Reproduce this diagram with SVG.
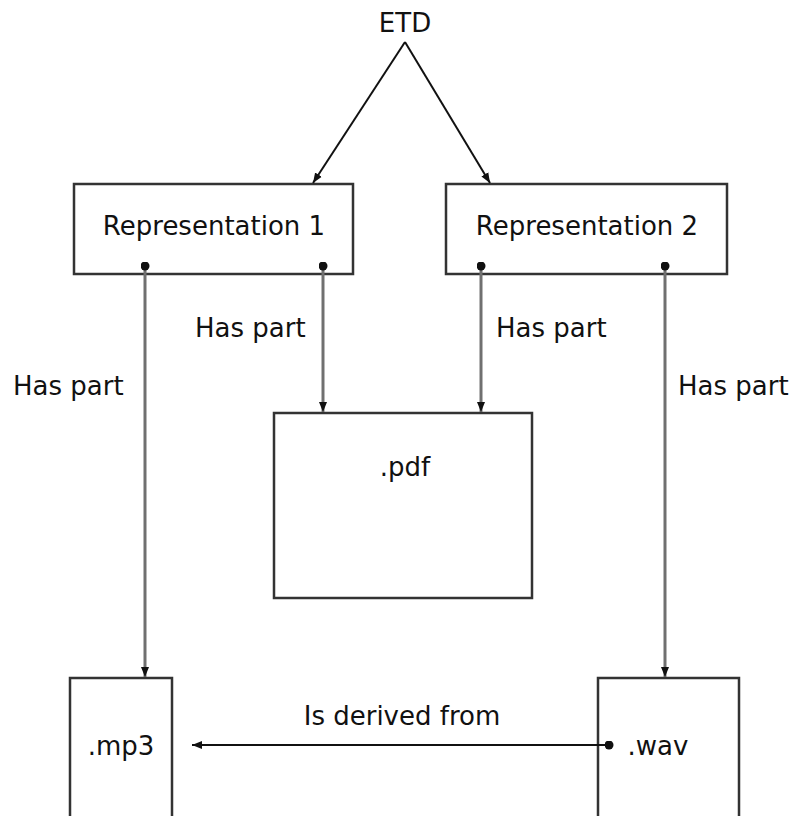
<svg xmlns="http://www.w3.org/2000/svg" width="797" height="816" viewBox="0 0 797 816">
<defs>
<style>
.box{fill:#fff;stroke:#333;stroke-width:2.5}
.t{font-family:"DejaVu Sans",Verdana,sans-serif;font-size:26px;fill:#111}
.c{text-anchor:middle}
.hp{stroke:#707070;stroke-width:3;fill:none}
.thin{stroke:#111;stroke-width:2;fill:none}
</style>
<marker id="arr" viewBox="0 0 10 10" refX="10" refY="5" markerWidth="10" markerHeight="10" markerUnits="userSpaceOnUse" orient="auto">
<path d="M0,1 L10,5 L0,9 z" fill="#111"/>
</marker>
<marker id="dot" viewBox="0 0 10 10" refX="5" refY="5" markerWidth="9" markerHeight="9" markerUnits="userSpaceOnUse">
<circle cx="5" cy="5" r="5" fill="#111"/>
</marker>
</defs>
<g id="etd"><text class="t c" x="405" y="32">ETD</text></g>
<g id="rep1"><rect class="box" x="74" y="184" width="279" height="90"/><text class="t c" x="214" y="235">Representation 1</text></g>
<g id="rep2"><rect class="box" x="446" y="184" width="281" height="90"/><text class="t c" x="587" y="235">Representation 2</text></g>
<g id="pdf"><rect class="box" x="274" y="413" width="258" height="185"/><text class="t c" x="405" y="476">.pdf</text></g>
<g id="mp3"><rect class="box" x="70" y="678" width="102" height="160"/><text class="t c" x="121" y="755">.mp3</text></g>
<g id="wav"><rect class="box" x="598" y="678" width="141" height="160"/><text class="t c" x="658" y="755">.wav</text></g>
<g id="connectors">
<line class="thin" x1="405" y1="42" x2="313" y2="183" marker-end="url(#arr)"/>
<line class="thin" x1="405" y1="42" x2="490" y2="183" marker-end="url(#arr)"/>
<line class="hp" x1="145" y1="266" x2="145" y2="677" marker-start="url(#dot)" marker-end="url(#arr)"/>
<line class="hp" x1="323" y1="266" x2="323" y2="412" marker-start="url(#dot)" marker-end="url(#arr)"/>
<line class="hp" x1="481" y1="266" x2="481" y2="412" marker-start="url(#dot)" marker-end="url(#arr)"/>
<line class="hp" x1="665" y1="266" x2="665" y2="677" marker-start="url(#dot)" marker-end="url(#arr)"/>
<line class="thin" x1="609" y1="745" x2="192" y2="745" marker-start="url(#dot)" marker-end="url(#arr)"/>
<text class="t" x="13" y="395">Has part</text>
<text class="t" x="195" y="337">Has part</text>
<text class="t" x="496" y="337">Has part</text>
<text class="t" x="678" y="395">Has part</text>
<text class="t c" x="402" y="725">Is derived from</text>
</g>
</svg>
